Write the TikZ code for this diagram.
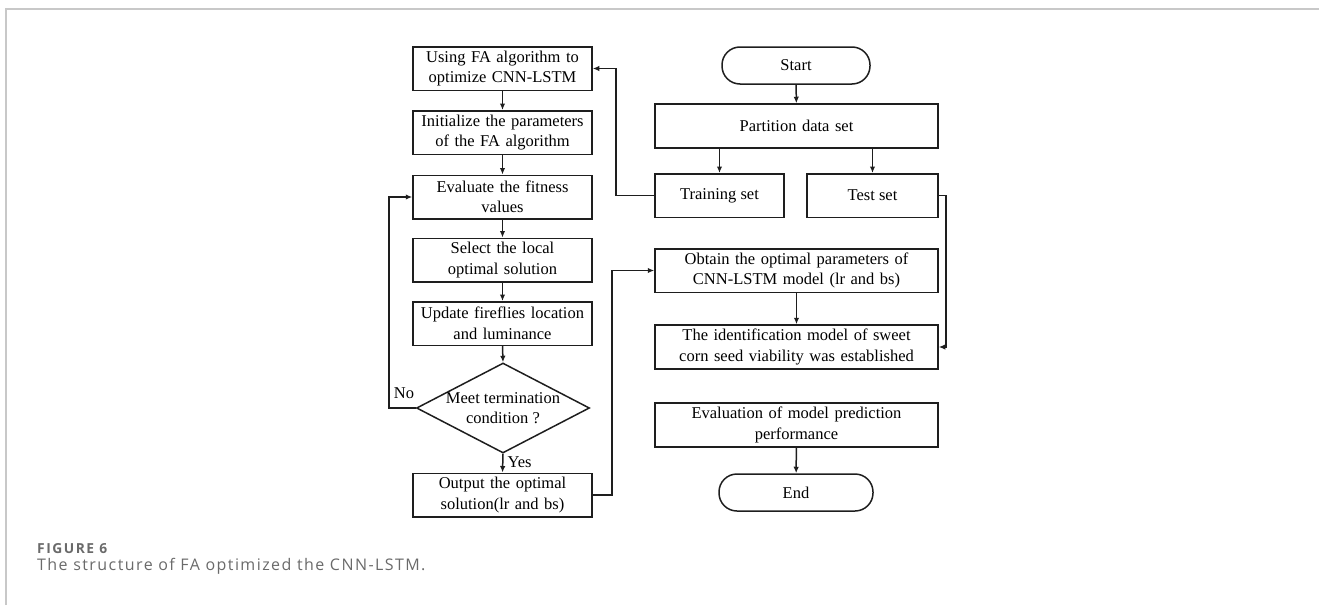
\documentclass[tikz,border=0pt]{standalone}
\usepackage{fontspec}
\setmainfont{Liberation Serif}
\newfontfamily\capfont[LetterSpace=9]{Open Sans}
\newfontfamily\figfont[LetterSpace=11]{Open Sans}
\usetikzlibrary{shapes.geometric,arrows.meta}
\definecolor{framegray}{HTML}{C8C8C8}
\definecolor{capgray}{HTML}{6A6A6A}
\definecolor{linecol}{HTML}{1E1E1E}
\begin{document}
\begin{tikzpicture}[x=1pt,y=-1pt,
  box/.style={draw=linecol,line width=1.5pt,rectangle,align=center,inner sep=1pt,
    font=\fontsize{16.5}{20.5}\selectfont,minimum height=43.5pt},
  lbox/.style={box,minimum width=179pt,text width=177pt},
  rbox/.style={box,minimum width=283pt,text width=281pt},
  term/.style={draw=linecol,line width=1.5pt,rectangle,rounded corners=18pt,
    minimum height=37pt,font=\fontsize{16.5}{20.5}\selectfont},
  arr/.style={draw=linecol,line width=1.5pt,-{Latex[length=6.5pt,width=5.5pt]}},
  lbl/.style={font=\fontsize{16.5}{20.5}\selectfont,inner sep=0pt},
  captxt/.style={anchor=base west,inner sep=0pt,text=capgray}]
\useasboundingbox (0,0) rectangle (1319,605);
\draw[framegray,line width=1.5pt] (6,605) coordinate (fb) -- (6,9) coordinate (fc) -- (1319,9) coordinate (fr);

% left column
\node[lbox] (b1) at (502.5,68.5) {Using FA algorithm to\\optimize CNN-LSTM};
\node[lbox] (b2) at (502.5,132.5) {Initialize the parameters\\of the FA algorithm};
\node[lbox] (b3) at (502.5,197) {Evaluate the fitness\\values};
\node[lbox] (b4) at (502.5,260) {Select the local\\optimal solution};
\node[lbox] (b5) at (502.5,323.5) {Update fireflies location\\and luminance};
\node[diamond,draw=linecol,line width=1.5pt,inner sep=0pt,minimum width=173pt,minimum height=90pt,
  label={[align=center,font=\fontsize{16.5}{20.5}\selectfont]center:Meet termination\\condition ?}] (d) at (503,408) {};
\node[lbox] (b6) at (502.5,495) {Output the optimal\\solution(lr and bs)};

% right column
\node[term,minimum width=148pt] (start) at (796,65.5) {Start};
\node[rbox,minimum height=44pt] (part) at (796.5,126) {Partition data set};
\node[box,minimum width=129pt] (train) at (719.5,195.5) {Training set};
\node[box,minimum width=131pt] (test) at (872.5,195.5) {Test set};
\node[rbox] (obt) at (796.5,270.5) {Obtain the optimal parameters of\\CNN-LSTM model (lr and bs)};
\node[rbox,minimum height=44pt] (ident) at (796.5,347) {The identification model of sweet\\corn seed viability was established};
\node[rbox,minimum height=44pt] (eval) at (796.5,425) {Evaluation of model prediction\\performance};
\node[term,minimum width=154pt] (end) at (796,492.5) {End};

% arrows left column
\draw[arr] (b1) -- (b2);
\draw[arr] (b2) -- (b3);
\draw[arr] (b3) -- (b4);
\draw[arr] (b4) -- (b5);
\draw[arr] (b5.south) -- (d.north);
\draw[arr] (d.south) -- (b6.north) node[lbl,pos=0.45,right=4pt] (yes) {Yes};
\draw[arr] (d.west) -- (389,408) coordinate (nl) |- (b3.west);
\node[lbl] (no) at (404,393) {No};

% arrows right column
\draw[arr] (start) -- (part);
\draw[arr] (train.north |- part.south) -- (train.north);
\draw[arr] (test.north |- part.south) -- (test.north);
\draw[arr] (train.west) -- (616,195.5) coordinate (tl) |- (b1.east);
\draw[arr] (test.east) -- (946,195.5) coordinate (tr) |- (ident.east);
\draw[arr] (b6.east) -- (612,495) coordinate (ol) |- (obt.west);
\draw[arr] (obt) -- (ident);
\draw[arr] (eval) -- (end);

% caption
\node[captxt,font=\figfont\fontsize{13.8}{16}\selectfont\bfseries] (fig) at (37,553.5) {FIGURE 6};
\node[captxt,font=\capfont\fontsize{16}{20}\selectfont] (captext) at (37,570) {The structure of FA optimized the CNN-LSTM.};
\end{tikzpicture}
\end{document}
